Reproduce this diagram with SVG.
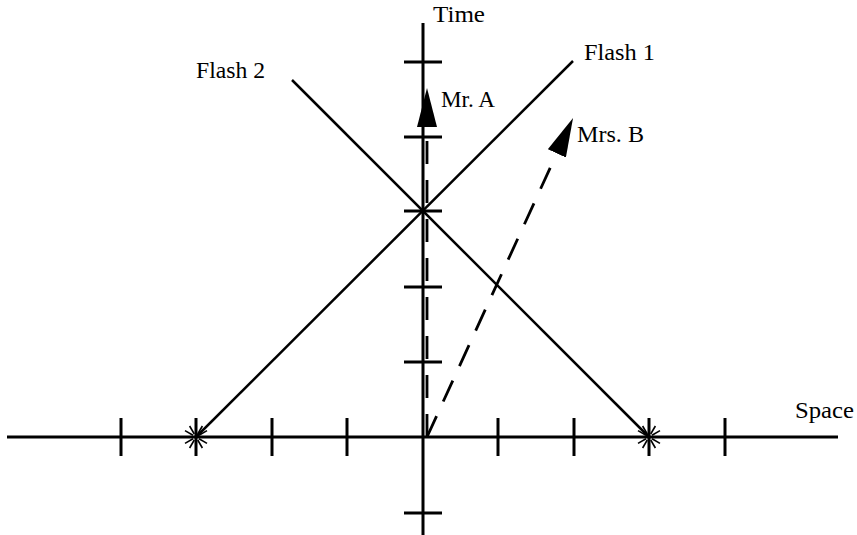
<svg xmlns="http://www.w3.org/2000/svg" width="857" height="535" viewBox="0 0 857 535">
<style>
.axis{stroke:#000;stroke-width:3;fill:none}
.tick{stroke:#000;stroke-width:3;fill:none}
.flash{stroke:#000;stroke-width:2.5;fill:none}
.world{stroke:#000;stroke-width:2.8;fill:none;stroke-dasharray:23 16}
.ray{stroke:#000;stroke-width:1.6;fill:none}
.lbl{font-size:23px;fill:#000}
</style>
<defs>
<marker id="ah" viewBox="0 0 39 20" refX="0" refY="10" markerWidth="39" markerHeight="20" markerUnits="userSpaceOnUse" orient="auto">
<path d="M0,0 L39,10 L0,20 z" fill="#000"/>
</marker>
<g id="star">
<line class="ray" x1="3" y1="-1.7" x2="11" y2="-6.4"/>
<line class="ray" x1="1.7" y1="-3" x2="6.4" y2="-11"/>
<line class="ray" x1="-1.7" y1="-3" x2="-6.4" y2="-11"/>
<line class="ray" x1="-3" y1="-1.7" x2="-11" y2="-6.4"/>
<line class="ray" x1="-3" y1="1.7" x2="-11" y2="6.4"/>
<line class="ray" x1="-1.7" y1="3" x2="-6.4" y2="11"/>
<line class="ray" x1="1.7" y1="3" x2="6.4" y2="11"/>
<line class="ray" x1="3" y1="1.7" x2="11" y2="6.4"/>
</g>
</defs>
<g id="axes">
<line class="axis" x1="7" y1="437" x2="838" y2="437"/>
<line class="axis" x1="423" y1="23" x2="423" y2="535"/>
</g>
<g id="ticks">
<line class="tick" x1="121" y1="418" x2="121" y2="456"/>
<line class="tick" x1="196" y1="418" x2="196" y2="456"/>
<line class="tick" x1="272" y1="418" x2="272" y2="456"/>
<line class="tick" x1="347" y1="418" x2="347" y2="456"/>
<line class="tick" x1="498" y1="418" x2="498" y2="456"/>
<line class="tick" x1="574" y1="418" x2="574" y2="456"/>
<line class="tick" x1="649" y1="418" x2="649" y2="456"/>
<line class="tick" x1="725" y1="418" x2="725" y2="456"/>
<line class="tick" x1="404" y1="62" x2="442" y2="62"/>
<line class="tick" x1="404" y1="137" x2="442" y2="137"/>
<line class="tick" x1="404" y1="211" x2="442" y2="211"/>
<line class="tick" x1="404" y1="287" x2="442" y2="287"/>
<line class="tick" x1="404" y1="362" x2="442" y2="362"/>
<line class="tick" x1="404" y1="513" x2="442" y2="513"/>
</g>
<g id="connectors">
<line id="flash1" class="flash" x1="196" y1="437" x2="573" y2="61"/>
<line id="flash2" class="flash" x1="292" y1="80" x2="649" y2="437"/>
<line id="mrA" class="world" x1="427" y1="437" x2="427" y2="127" marker-end="url(#ah)"/>
<line id="mrsB" class="world" x1="427" y1="437" x2="556.8" y2="153.4" marker-end="url(#ah)"/>
</g>
<g id="flash-events">
<use href="#star" x="196" y="437"/>
<use href="#star" x="649" y="437"/>
</g>
<g id="labels" font-family="'Liberation Serif', 'DejaVu Serif', serif">
<text class="lbl" x="433" y="22" textLength="52" lengthAdjust="spacingAndGlyphs">Time</text>
<text class="lbl" x="584" y="60" textLength="71" lengthAdjust="spacingAndGlyphs">Flash 1</text>
<text class="lbl" x="196" y="78" textLength="69" lengthAdjust="spacingAndGlyphs">Flash 2</text>
<text class="lbl" x="441" y="107" textLength="54" lengthAdjust="spacingAndGlyphs">Mr. A</text>
<text class="lbl" x="577" y="142" textLength="67" lengthAdjust="spacingAndGlyphs">Mrs. B</text>
<text class="lbl" x="795" y="418" textLength="59" lengthAdjust="spacingAndGlyphs">Space</text>
</g>
</svg>
